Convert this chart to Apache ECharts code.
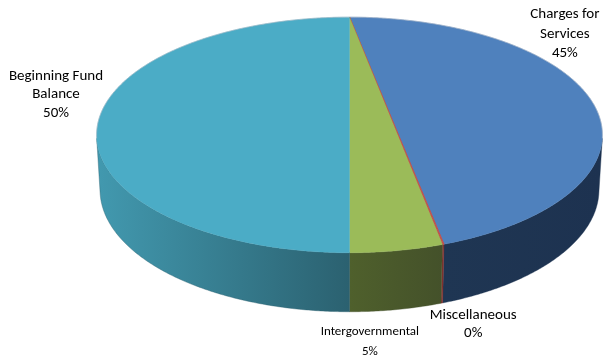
<!DOCTYPE html>
<html>
<head>
<meta charset="utf-8">
<script src="https://cdn.jsdelivr.net/npm/echarts@6/dist/echarts.min.js"></script>
<style>
html,body{margin:0;padding:0;background:#fff;}
#chart{width:605px;height:358px;}
</style>
</head>
<body>
<div id="chart"></div>
<script>
// ---- data ----
const categories = ['Charges for Services', 'Miscellaneous', 'Intergovernmental', 'Beginning Fund Balance'];
const labelNames = ['Charges for\nServices', 'Miscellaneous', 'Intergovernmental', 'Beginning Fund\nBalance'];
const values = [44.5, 0.1, 5.4, 50.0];

// ---- styles ----
const topColors = ['#4F81BD', '#C0504D', '#9BBB59', '#4BACC6'];
const sideColors = [['#1F3653', '#1D3250'], ['#7F302E', '#7F302E'], ['#4F602C', '#44512A'], ['#4299AF', '#2B6170']];
const labelFontSizes = [15, 15, 13, 15];
const labelLineHeights = [19.5, 18, 20, 18.5];
const labelOffsets = [[-28, -69], [30, 80], [-27, 91], [-42, -28]];

// ---- 3D view ----
const view = { cx: 349.5, cy: 122.6, R: 251.5, elev: 27.6, D: 2126, H: 62.5 };
const sinA = Math.sin(view.elev * Math.PI / 180), cosA = Math.cos(view.elev * Math.PI / 180);
function project(phiDeg, h) {
  const p = phiDeg * Math.PI / 180;
  const xw = view.R * Math.sin(p);
  const z = -view.R * Math.cos(p);
  const yc = h * cosA - z * sinA;
  const dc = z * cosA + h * sinA;
  const s = view.D / (view.D - dc);
  return [view.cx + xw * s, view.cy - yc * s];
}
function arc(a, b, h) {
  const n = Math.max(2, Math.ceil((b - a) / 0.5));
  const pts = [];
  for (let i = 0; i <= n; i++) pts.push(project(a + (b - a) * i / n, h));
  return pts;
}
const phiA = Math.acos(-view.R / (view.D * cosA)) * 180 / Math.PI;
const phiB = 360 - phiA;

const total = values.reduce((s, v) => s + v, 0);
const starts = [];
let acc = 0;
values.forEach(v => { starts.push(acc / total * 360); acc += v; });

const chart = echarts.init(document.getElementById('chart'), null, { renderer: 'canvas' });
chart.setOption({
  animation: false,
  backgroundColor: '#ffffff',
  series: [{
    type: 'custom',
    coordinateSystem: 'none',
    data: values.map((v, i) => ({ name: categories[i], value: v })),
    renderItem: function (params, api) {
      const i = params.dataIndex;
      const a = starts[i];
      const b = a + values[i] / total * 360;
      const children = [];
      // side wall
      const lo = Math.max(a, phiA), hi = Math.min(b, phiB);
      if (hi > lo) {
        const pts = arc(lo, hi, 0).concat(arc(lo, hi, -view.H).reverse());
        children.push({
          type: 'polygon',
          shape: { points: pts },
          style: {
            fill: new echarts.graphic.LinearGradient(0, 0, 1, 0, [
              { offset: 0, color: sideColors[i][0] }, { offset: 1, color: sideColors[i][1] }]),
            stroke: sideColors[i][1], lineWidth: 0.4
          }
        });
      }
      // top face
      const topPts = [project(0, 0)].concat(arc(a, b, 0));
      children.push({
        type: 'polygon',
        shape: { points: topPts },
        style: { fill: topColors[i], stroke: topColors[i], lineWidth: i === 1 ? 1 : 0.4 }
      });
      // back rim highlight
      const rims = [];
      if (a < phiA) rims.push([a, Math.min(b, phiA)]);
      if (b > phiB) rims.push([Math.max(a, phiB), b]);
      rims.forEach(r => {
        children.push({
          type: 'polyline',
          shape: { points: arc(r[0], r[1], 0) },
          style: { fill: null, stroke: 'rgba(180,188,198,0.55)', lineWidth: 1 }
        });
      });
      // label
      const mid = project((a + b) / 2, 0);
      const pct = Math.round(values[i] * 100 / total + 1e-9) + '%';
      children.push({
        type: 'text',
        style: {
          text: labelNames[i] + '\n' + pct,
          x: mid[0] + labelOffsets[i][0],
          y: mid[1] + labelOffsets[i][1],
          fill: '#000000',
          fontSize: labelFontSizes[i],
          fontFamily: 'Carlito, Lato, sans-serif',
          lineHeight: labelLineHeights[i],
          align: 'center', verticalAlign: 'middle',
          textAlign: 'center', textVerticalAlign: 'middle'
        }
      });
      return { type: 'group', children: children };
    }
  }]
});
</script>
</body>
</html>
